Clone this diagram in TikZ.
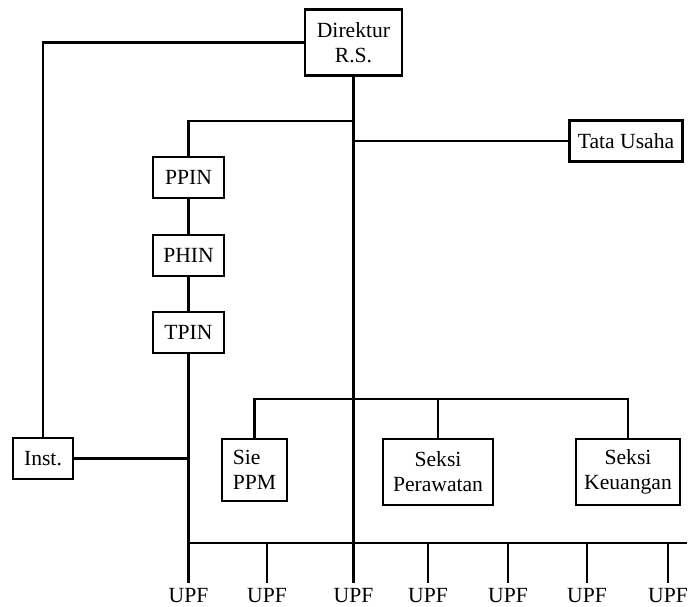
\documentclass[tikz,border=0pt]{standalone}
\usepackage{fontspec}
\setmainfont{Liberation Serif}
\usetikzlibrary{calc}
\tikzset{every node/.style={font=\fontsize{12.3}{14.3}\selectfont},
  box/.style={draw,line width=1.2pt,inner sep=0pt,align=center,fill=white},
  unit/.style={box,minimum width=1.42cm,minimum height=.82cm},
  lien/.style={line width=1.2pt},
  upf/.style={anchor=base,inner sep=3pt}}

\begin{document}
\begin{tikzpicture}[x=.02cm,y=-.02cm]
\useasboundingbox (0,0) rectangle (694,607);
% kotak
\node[box,minimum width=1.94cm,minimum height=1.32cm] (dir) at (353.5,42.5){Direktur\\R.S.};
\node[box,minimum width=2.26cm,minimum height=.82cm] (tu) at (626,141){Tata Usaha};
\node[unit] (ppin) at (188.5,177.5){PPIN};
\node[unit] (phin) at (188.5,255.5){PHIN};
\node[unit] (tpin) at (188.5,332.5){TPIN};
\node[box,minimum width=1.2cm,minimum height=.82cm] (inst) at (43,458.5){Inst.};
\node[box,align=left,minimum width=1.3cm,minimum height=1.24cm] (sie) at (254.5,470){Sie\\PPM};
\node[box,minimum width=2.2cm,minimum height=1.32cm] (per) at (438,472){Seksi\\Perawatan};
\node[box,minimum width=2.08cm,minimum height=1.32cm] (keu) at (628,472){Seksi\\Keuangan};
% UPF
\foreach \n/\x in {1/188.5,2/267,3/353.5,4/428,5/508,6/587,7/668}
  \node[upf] (u\n) at (\x,603){UPF};
% titik bantu
\coordinate (bus) at (687,543);
\coordinate (sek) at (0,399);
% garis
\draw[lien] (dir.west) -| (inst.north);
\draw[lien] (dir.south) -- (u3.north);
\draw[lien] (dir.south|-0,121) -| (ppin.north);
\draw[lien] (dir.south|-tu.west) -- (tu.west);
\draw[lien] (ppin)--(phin) (phin)--(tpin) (tpin.south)--(u1.north);
\draw[lien] (inst.east) -- (inst.east-|tpin.south);
\draw[lien] (sie.north) |- (sek-|keu.north) -- (keu.north);
\draw[lien] (per.north) -- (per.north|-sek);
\draw[lien] (bus) -- (bus-|u1.north);
\foreach \n in {2,4,5,6,7} \draw[lien] (bus-|u\n.north) -- (u\n.north);
\end{tikzpicture}
\end{document}
